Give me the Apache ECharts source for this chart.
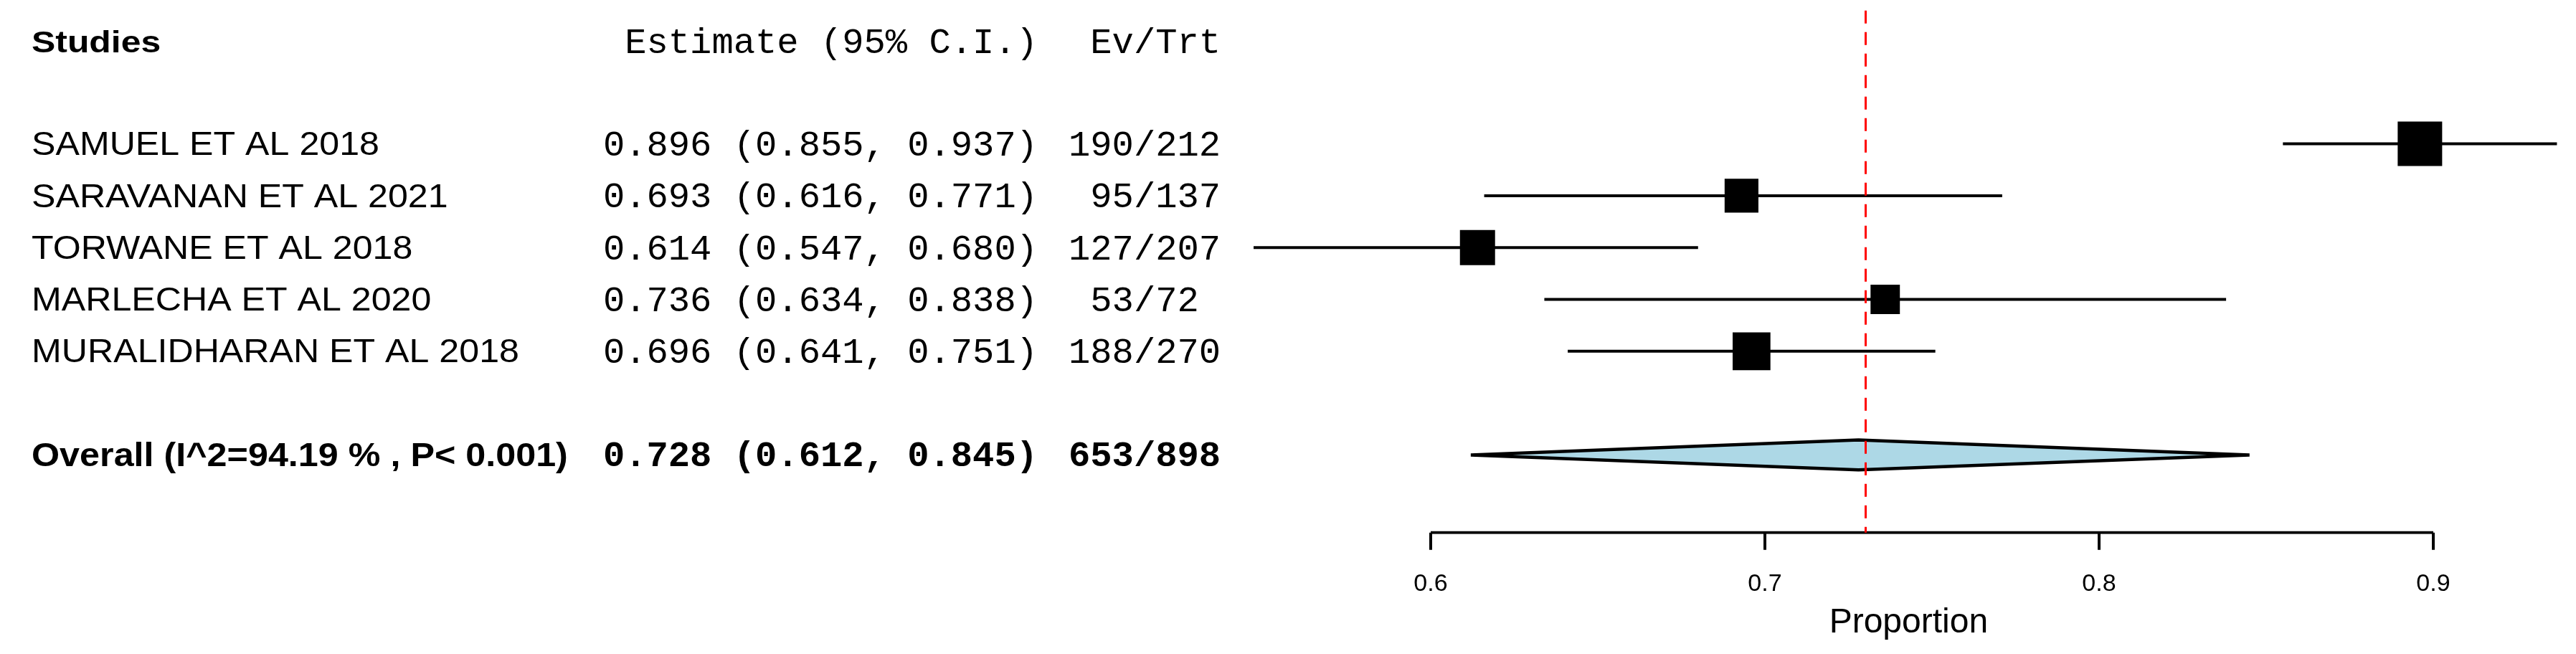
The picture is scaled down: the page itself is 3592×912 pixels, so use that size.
<!DOCTYPE html>
<html>
<head>
<meta charset="utf-8">
<script src="https://cdn.jsdelivr.net/npm/echarts@6/dist/echarts.min.js"></script>
<style>
html,body{margin:0;padding:0;background:#fff;}
#chart{width:3592px;height:912px;}
</style>
</head>
<body>
<div id="chart"></div>
<script>
// ---------------- data ----------------
const studies = ["SAMUEL ET AL 2018", "SARAVANAN ET AL 2021", "TORWANE ET AL 2018", "MARLECHA ET AL 2020", "MURALIDHARAN ET AL 2018"];
const estimates = [0.896, 0.693, 0.614, 0.736, 0.696];
const lowerCI = [0.855, 0.616, 0.547, 0.634, 0.641];
const upperCI = [0.937, 0.771, 0.680, 0.838, 0.751];
const events = [190, 95, 127, 53, 188];
const totals = [212, 137, 207, 72, 270];
const weights = [1.00, 0.76, 0.79, 0.66, 0.85];   // relative box sizes (study weights)
const overallLabel = "Overall (I^2=94.19 % , P< 0.001)";
const overallEst = 0.728;
const overallLower = 0.612;
const overallUpper = 0.845;
const overallEvents = 653;
const overallTotal = 898;
const xTicks = [0.6, 0.7, 0.8, 0.9];
const headerStudy = "Studies";
const headerEst = "Estimate (95% C.I.)";
const headerEv = "Ev/Trt";
const axisName = "Proportion";

// ---------------- layout ----------------
const W = 3592, H = 912;
const X_MIN = 0.54, X_MAX = 0.94;
const PX_PER_UNIT = 4660, PX_AT_06 = 1995;
const gridLeft = PX_AT_06 - (0.6 - X_MIN) * PX_PER_UNIT;
const gridRight = W - (PX_AT_06 + (X_MAX - 0.6) * PX_PER_UNIT);
const Y_MIN = -0.57, Y_MAX = 9.5;
const ROW_PX = 72.3, ROW0_PX = 56;
const gridTop = ROW0_PX + Y_MIN * ROW_PX;
const gridBottom = H - (ROW0_PX + Y_MAX * ROW_PX);

const HEADER_ROW = 0;
const studyRows = studies.map((_, i) => 2 + i);
const OVERALL_ROW = 8;
const BOX_MAX = 62;

const SANS = "'Liberation Sans', Arial, Helvetica, sans-serif";
const MONO = "'Liberation Mono', 'DejaVu Sans Mono', monospace";

const NAME_X = 44, EST_RIGHT_X = 1447, EV_LEFT_X = 1490;
const TEXT_DY = 3, HEADER_DY = 5;

function fmt(v) { return v.toFixed(3); }
function estText(e, l, u) { return fmt(e) + " (" + fmt(l) + ", " + fmt(u) + ")"; }
function center(s, w) {
  const pad = Math.max(0, w - s.length);
  const left = Math.ceil(pad / 2), right = pad - left;
  return " ".repeat(left) + s + " ".repeat(right);
}

// text items (row, column, string, font, horizontal stretch)
const textItems = [];
textItems.push({ row: HEADER_ROW, dy: HEADER_DY, x: NAME_X, align: 'left', text: headerStudy, font: "bold 43px " + SANS, sx: 1.16 });
textItems.push({ row: HEADER_ROW, dy: HEADER_DY, x: EST_RIGHT_X, align: 'right', text: headerEst, font: "50.5px " + MONO, sx: 1 });
textItems.push({ row: HEADER_ROW, dy: HEADER_DY, x: EV_LEFT_X, align: 'left', text: center(headerEv, 7), font: "50.5px " + MONO, sx: 1 });
studies.forEach((s, i) => {
  textItems.push({ row: studyRows[i], dy: TEXT_DY, x: NAME_X, align: 'left', text: s, font: "46px " + SANS, sx: 1.09 });
  textItems.push({ row: studyRows[i], dy: TEXT_DY, x: EST_RIGHT_X, align: 'right', text: estText(estimates[i], lowerCI[i], upperCI[i]), font: "50.5px " + MONO, sx: 1 });
  textItems.push({ row: studyRows[i], dy: TEXT_DY, x: EV_LEFT_X, align: 'left', text: center(events[i] + "/" + totals[i], 7), font: "50.5px " + MONO, sx: 1 });
});
textItems.push({ row: OVERALL_ROW, dy: TEXT_DY, x: NAME_X, align: 'left', text: overallLabel, font: "bold 47px " + SANS, sx: 1.07 });
textItems.push({ row: OVERALL_ROW, dy: TEXT_DY, x: EST_RIGHT_X, align: 'right', text: estText(overallEst, overallLower, overallUpper), font: "bold 50.5px " + MONO, sx: 1 });
textItems.push({ row: OVERALL_ROW, dy: TEXT_DY, x: EV_LEFT_X, align: 'left', text: center(overallEvents + "/" + overallTotal, 7), font: "bold 50.5px " + MONO, sx: 1 });

const chart = echarts.init(document.getElementById('chart'), null, { renderer: 'canvas', width: W, height: H });

const option = {
  backgroundColor: '#ffffff',
  animation: false,
  grid: { left: gridLeft, right: gridRight, top: gridTop, bottom: gridBottom, containLabel: false },
  xAxis: {
    type: 'value', min: X_MIN, max: X_MAX,
    axisLine: { show: false, onZero: false },
    splitLine: { show: false },
    axisTick: { show: true, customValues: xTicks, length: 24, lineStyle: { color: '#000', width: 4 } },
    axisLabel: { show: true, customValues: xTicks, margin: 55, fontSize: 34, color: '#000', fontFamily: SANS,
      formatter: v => String(Math.round(v * 10) / 10) },
    name: axisName, nameLocation: 'middle', nameGap: 102,
    nameTextStyle: { fontSize: 48, color: '#000', fontFamily: SANS, padding: [0, 0, 0, 28] }
  },
  yAxis: {
    type: 'value', min: Y_MIN, max: Y_MAX, inverse: true, show: false
  },
  series: [
    {
      // x-axis baseline spanning the tick range
      type: 'line', data: [[xTicks[0], Y_MAX], [xTicks[xTicks.length - 1], Y_MAX]],
      symbol: 'none', lineStyle: { color: '#000', width: 4 }, z: 3, silent: true
    },
    {
      type: 'custom', z: 4,
      data: studies.map((_, i) => [estimates[i], lowerCI[i], upperCI[i], studyRows[i], weights[i]]),
      encode: { x: [0, 1, 2], y: 3 },
      renderItem: function (params, api) {
        const e = api.coord([api.value(0), api.value(3)]);
        const l = api.coord([api.value(1), api.value(3)]);
        const u = api.coord([api.value(2), api.value(3)]);
        const s = api.value(4) * BOX_MAX;
        return {
          type: 'group', children: [
            { type: 'line', shape: { x1: l[0], y1: l[1], x2: u[0], y2: u[1] }, style: { stroke: '#000', lineWidth: 4 } },
            { type: 'rect', shape: { x: e[0] - s / 2, y: e[1] - s / 2, width: s, height: s }, style: { fill: '#000' } }
          ]
        };
      }
    },
    {
      type: 'custom', z: 4,
      data: [[overallEst, overallLower, overallUpper, OVERALL_ROW]],
      encode: { x: [0, 1, 2], y: 3 },
      renderItem: function (params, api) {
        const r = api.value(3), h = 0.29;
        const pts = [
          api.coord([api.value(1), r]),
          api.coord([api.value(0), r - h]),
          api.coord([api.value(2), r]),
          api.coord([api.value(0), r + h])
        ];
        return { type: 'polygon', shape: { points: pts }, style: { fill: '#ADD8E6', stroke: '#000', lineWidth: 4.5, lineJoin: 'miter' } };
      }
    },
    {
      type: 'line', data: [], z: 6, silent: true,
      markLine: {
        silent: true, symbol: ['none', 'none'], label: { show: false },
        lineStyle: { color: '#FF0000', type: [18, 12], width: 3 },
        data: [{ xAxis: overallEst }]
      }
    },
    {
      type: 'custom', z: 5, clip: false,
      data: textItems.map(t => [X_MIN, t.row]),
      encode: { x: 0, y: 1 },
      renderItem: function (params, api) {
        const t = textItems[params.dataIndex];
        const p = api.coord([api.value(0), api.value(1)]);
        return {
          type: 'text',
          x: t.x, y: p[1] + t.dy, scaleX: t.sx, scaleY: 1,
          style: { text: t.text, x: 0, y: 0, font: t.font, fill: '#000', align: t.align, verticalAlign: 'middle' }
        };
      }
    }
  ]
};
chart.setOption(option);
</script>
</body>
</html>
